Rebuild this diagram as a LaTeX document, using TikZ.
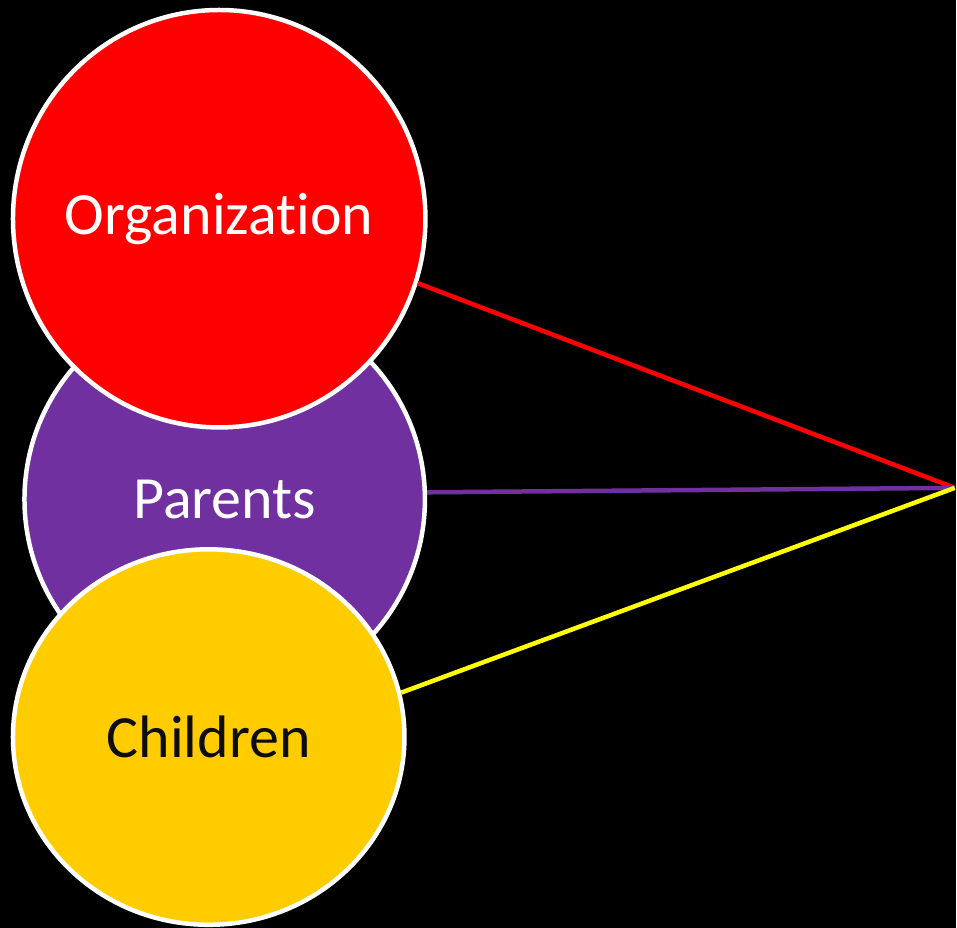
\documentclass[tikz,border=0pt]{standalone}
\usepackage{fontspec}
\setmainfont{Carlito}[Ligatures=NoCommon]
\usetikzlibrary{shapes.geometric}
\definecolor{orgred}{HTML}{FF0000}
\definecolor{parpurple}{HTML}{7030A0}
\definecolor{chigold}{HTML}{FFCC00}
\definecolor{chiline}{HTML}{FFFF00}
\definecolor{chitext}{HTML}{0D0D0D}
\tikzset{
  disc/.style={ellipse,draw=white,line width=4.5pt,inner sep=0pt},
  disctext/.style={font=\fontsize{60}{72}\selectfont,inner sep=0pt},
  tie/.style={line width=4.5pt}
}

\begin{document}
\begin{tikzpicture}[x=1pt,y=-1pt]
\fill[black] (0,0) rectangle (957,929);
\node[disc,fill=parpurple,minimum width=401pt,minimum height=402pt,
  label={[disctext,text=white]center:Parents}] (par) at (225,500){};
\node[disc,fill=orgred,minimum width=413pt,minimum height=418pt,
  label={[disctext,text=white]center:Organization}] (org) at (219.5,219){};
\node[disc,fill=chigold,minimum width=392pt,minimum height=376pt,
  label={[disctext,text=chitext]center:Children}] (chi) at (209,738){};
\coordinate (focus) at (956,488.5);
\foreach \from/\col in {org.-18/orgred,par.2/parpurple,chi.13/chiline}
  \draw[tie,\col] (\from) -- (focus);
\end{tikzpicture}
\end{document}
